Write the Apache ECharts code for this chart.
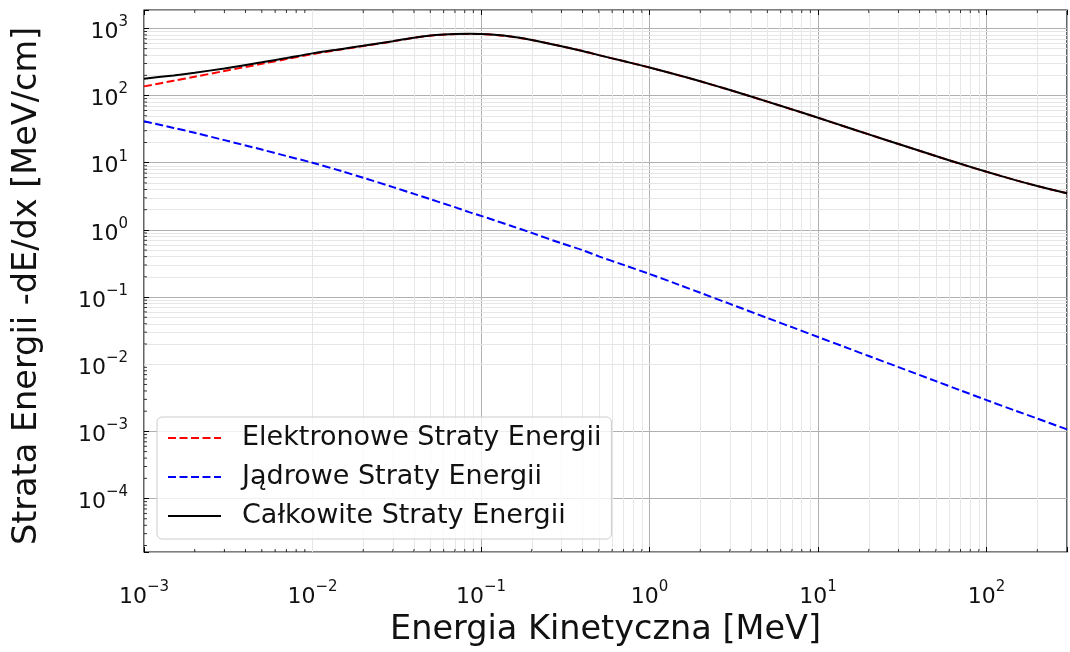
<!DOCTYPE html>
<html>
<head>
<meta charset="utf-8">
<script src="https://cdn.jsdelivr.net/npm/echarts@6/dist/echarts.min.js"></script>
<style>
  html, body { margin: 0; padding: 0; background: #ffffff; }
  #chart { width: 1070px; height: 652px; }
</style>
</head>
<body>
<div id="chart"></div>
<script>
// Kinetic energy [MeV]
const energy = [0.001, 0.0015, 0.002, 0.003, 0.005, 0.007, 0.01, 0.015, 0.02, 0.03, 0.04, 0.05,
  0.06, 0.07, 0.085, 0.1, 0.12, 0.15, 0.2, 0.3, 0.4, 0.5, 0.7, 1, 1.5, 2, 3, 5, 7, 10,
  15, 20, 30, 50, 70, 100, 150, 200, 300];
// Electronic stopping power [MeV/cm]
const electronic = [137, 166.5, 191, 232, 297, 349, 415, 488, 547, 641, 725, 780,
  808, 822, 828, 824, 802, 756, 672, 543, 460, 400, 326, 262, 199.5, 163, 120.8, 81.3, 62.2, 46.7,
  33.4, 26.4, 19.0, 12.56, 9.63, 7.33, 5.46, 4.50, 3.51];
// Nuclear stopping power [MeV/cm]
const nuclear = [41.5, 33.0, 27.9, 21.7, 15.7, 12.6, 10.0, 7.45, 5.98, 4.34, 3.44, 2.87,
  2.47, 2.18, 1.84, 1.62, 1.39, 1.153, 0.902, 0.632, 0.50, 0.404, 0.301, 0.221, 0.1517, 0.1159,
  0.0791, 0.0488, 0.0356, 0.0254, 0.01738, 0.01324, 0.00906, 0.0056, 0.00408, 0.00292,
  0.00201, 0.00155, 0.00107];
// Total stopping power [MeV/cm]
const total = [178.5, 199.5, 218.9, 253.7, 312.7, 361.6, 425, 495.5, 553, 645.3, 728.4, 782.9,
  810.5, 824.2, 829.8, 825.6, 803.4, 757.2, 672.9, 543.6, 460.5, 400.4, 326.3, 262.2, 199.7, 163.1,
  120.9, 81.35, 62.24, 46.73, 33.42, 26.41, 19.01, 12.57, 9.634, 7.333, 5.462, 4.502, 3.511];

const seriesNames = ['Elektronowe Straty Energii', 'Jądrowe Straty Energii', 'Całkowite Straty Energii'];
const xTitle = 'Energia Kinetyczna [MeV]';
const yTitle = 'Strata Energii -dE/dx [MeV/cm]';

const xRange = [0.001, 300];
const yRange = [1.6e-5, 1880];
const xDecades = [-3, -2, -1, 0, 1, 2];
const yDecades = [-5, -4, -3, -2, -1, 0, 1, 2];
const minorSteps = [2, 3, 4, 5, 6, 7, 8, 9];

const FONT = 'DejaVu Sans';
const INK = '#111111';

function minorValues(decades, lo, hi) {
  const out = [];
  decades.forEach(function (d) {
    minorSteps.forEach(function (m) {
      const v = m * Math.pow(10, d);
      if (v > lo * 1.0001 && v < hi * 0.9999) out.push(v);
    });
  });
  return out;
}
const xMinor = minorValues(xDecades, xRange[0], xRange[1]);
const yMinor = minorValues(yDecades, yRange[0], yRange[1]);

// "10" with a raised exponent, only for exact powers of ten
function powLabel(v) {
  const e = Math.log10(v);
  const r = Math.round(e);
  if (Math.abs(e - r) > 1e-6) return '';
  return '{b|10}{s|' + String(r).replace('-', '\u2212') + '}';
}
const powRich = {
  b: { fontFamily: FONT, fontSize: 22, color: INK, lineHeight: 22, padding: [8, 0, 0, 0] },
  s: { fontFamily: FONT, fontSize: 15, color: INK, lineHeight: 15, padding: [0, 0, 12, 0] }
};

const pairs = function (ys) { return energy.map(function (x, i) { return [x, ys[i]]; }); };

const chart = echarts.init(document.getElementById('chart'), null, { renderer: 'canvas' });

const majorGrid = { show: true, lineStyle: { color: '#b0b0b0', width: 1 } };
const majorTick = { show: true, inside: true, length: 5, lineStyle: { color: '#000', width: 1 } };

function curve(name, ys, color, dash, z) {
  return {
    name: name,
    type: 'line',
    z: z,
    data: pairs(ys),
    smooth: 0.3,
    showSymbol: false,
    symbol: 'none',
    color: color,
    lineStyle: { color: color, width: 2, type: dash }
  };
}

chart.setOption({
  animation: false,
  backgroundColor: '#ffffff',
  grid: { left: 144, top: 10, width: 928, height: 544, show: true, borderColor: '#000000', borderWidth: 1.2, backgroundColor: 'transparent' },
  legend: {
    data: seriesNames,
    orient: 'vertical',
    left: 157,
    top: 417,
    itemWidth: 53,
    itemHeight: 14,
    itemGap: 9,
    padding: [6, 10, 8, 10],
    backgroundColor: 'rgba(255,255,255,0.8)',
    borderColor: '#cccccc',
    borderWidth: 1,
    borderRadius: 5,
    z: 10,
    itemStyle: { color: 'rgba(0,0,0,0)', borderColor: 'rgba(0,0,0,0)', borderWidth: 0 },
    lineStyle: { width: 2 },
    textStyle: { fontFamily: FONT, fontSize: 27, color: INK, lineHeight: 30, padding: [0, 0, 0, 16] }
  },
  xAxis: [{
    type: 'log',
    logBase: 10,
    min: xRange[0],
    max: xRange[1],
    name: xTitle,
    nameLocation: 'middle',
    nameGap: 61,
    nameTextStyle: { fontFamily: FONT, fontSize: 33.5, color: INK, lineHeight: 34 },
    axisLine: { show: false },
    axisTick: majorTick,
    axisLabel: { show: true, margin: 30, formatter: powLabel, rich: powRich },
    splitLine: majorGrid
  }, {
    type: 'log',
    logBase: 10,
    position: 'top',
    min: xRange[0],
    max: xRange[1],
    axisLine: { show: false },
    axisTick: majorTick,
    axisLabel: { show: false },
    splitLine: { show: false }
  }],
  yAxis: [{
    type: 'log',
    logBase: 10,
    min: yRange[0],
    max: yRange[1],
    name: yTitle,
    nameLocation: 'middle',
    nameGap: 100,
    nameTextStyle: { fontFamily: FONT, fontSize: 33.5, color: INK, lineHeight: 34, padding: [0, 10, 0, 0] },
    axisLine: { show: false },
    axisTick: majorTick,
    axisLabel: { show: true, margin: 16, formatter: powLabel, rich: powRich },
    splitLine: majorGrid
  }],
  series: [
    {
      // minor grid lines and minor ticks along the bottom edge
      type: 'scatter',
      name: 'minor-bottom',
      silent: true,
      z: 1,
      clip: false,
      symbol: 'rect',
      symbolSize: [1, 3],
      symbolOffset: [0, -1.5],
      itemStyle: { color: '#000' },
      data: xMinor.map(function (v) { return [v, yRange[0]]; }),
      markLine: {
        z: 1,
        silent: true,
        symbol: ['none', 'none'],
        label: { show: false },
        lineStyle: { color: '#e6e6e6', width: 1, type: 'solid' },
        emphasis: { disabled: true },
        data: xMinor.map(function (v) { return { xAxis: v }; })
          .concat(yMinor.map(function (v) { return { yAxis: v }; }))
      }
    },
    {
      type: 'scatter',
      name: 'minor-top',
      silent: true,
      z: 1,
      clip: false,
      symbol: 'rect',
      symbolSize: [1, 3],
      symbolOffset: [0, 1.5],
      itemStyle: { color: '#000' },
      data: xMinor.map(function (v) { return [v, yRange[1]]; })
    },
    {
      type: 'scatter',
      name: 'minor-left',
      silent: true,
      z: 1,
      clip: false,
      symbol: 'rect',
      symbolSize: [3, 1],
      symbolOffset: [1.5, 0],
      itemStyle: { color: '#000' },
      data: yMinor.map(function (v) { return [xRange[0], v]; })
    },
    curve(seriesNames[0], electronic, '#ff0000', [8, 3.5], 3),
    curve(seriesNames[1], nuclear, '#0000ff', [8, 3.5], 3),
    curve(seriesNames[2], total, '#000000', 'solid', 4)
  ]
});
</script>
</body>
</html>
